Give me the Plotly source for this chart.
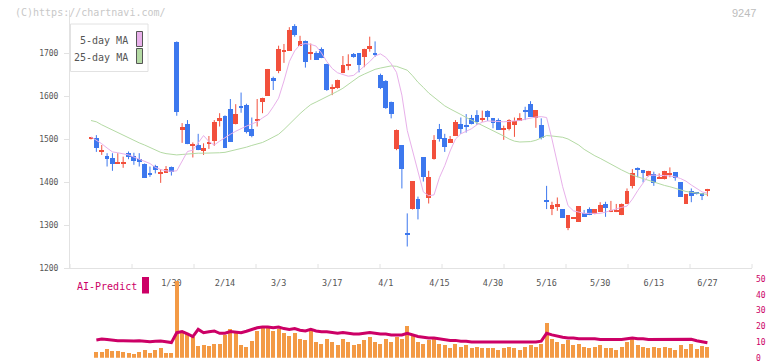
import plotly.graph_objects as go

W, H = 772, 361

# ---------------- data ----------------
label_idx = [15, 25, 35, 45, 55, 65, 75, 85, 95, 105, 115]
label_text = ["1/30", "2/14", "3/3", "3/17", "4/1", "4/15", "4/30", "5/16", "5/30", "6/13", "6/27"]

open_ = [1500, 1502, 1471, 1460, 1456, 1443, 1441, 1468, 1460, 1453,
         1443, 1419, 1437, 1420, 1422, 1436, 1725, 1522, 1535, 1484,
         1486, 1473, 1489, 1495, 1543, 1553, 1570, 1534, 1577, 1580,
         1523, 1543, 1585, 1601, 1643, 1657, 1703, 1705, 1762, 1716,
         1728, 1698, 1699, 1709, 1674, 1616, 1618, 1654, 1672, 1698,
         1699, 1690, 1709, 1699, 1648, 1634, 1587, 1476, 1486, 1280,
         1337, 1360, 1457, 1363, 1453, 1523, 1502, 1491, 1507, 1535,
         1529, 1548, 1556, 1544, 1564, 1548, 1544, 1522, 1523, 1533,
         1543, 1566, 1581, 1549, 1533, 1355, 1338, 1343, 1337, 1292,
         1314, 1308, 1327, 1337, 1326, 1331, 1349, 1331, 1331, 1323,
         1350, 1391, 1429, 1428, 1414, 1418, 1409, 1406, 1417, 1423,
         1399, 1350, 1379, 1375, 1374, 1378]
high = [1503, 1509, 1486, 1467, 1467, 1467, 1459, 1471, 1468, 1467,
        1443, 1436, 1440, 1430, 1437, 1436, 1727, 1537, 1544, 1492,
        1512, 1490, 1507, 1544, 1560, 1555, 1593, 1581, 1608, 1582,
        1550, 1593, 1596, 1663, 1645, 1717, 1721, 1760, 1767, 1740,
        1729, 1722, 1704, 1713, 1675, 1627, 1638, 1693, 1697, 1700,
        1700, 1710, 1738, 1727, 1652, 1637, 1587, 1522, 1486, 1327,
        1402, 1366, 1458, 1426, 1509, 1535, 1512, 1507, 1544, 1550,
        1558, 1556, 1567, 1566, 1567, 1548, 1548, 1531, 1546, 1550,
        1560, 1575, 1588, 1567, 1548, 1391, 1354, 1364, 1337, 1323,
        1316, 1344, 1335, 1341, 1337, 1353, 1354, 1356, 1349, 1350,
        1385, 1430, 1434, 1428, 1426, 1424, 1420, 1426, 1434, 1423,
        1399, 1371, 1385, 1376, 1374, 1384]
low = [1499, 1470, 1463, 1436, 1426, 1442, 1433, 1453, 1440, 1436,
       1410, 1412, 1420, 1398, 1421, 1415, 1554, 1491, 1488, 1457,
       1474, 1463, 1477, 1484, 1529, 1480, 1494, 1534, 1561, 1513,
       1504, 1529, 1560, 1600, 1614, 1653, 1677, 1705, 1738, 1716,
       1666, 1684, 1684, 1688, 1612, 1602, 1617, 1653, 1660, 1689,
       1655, 1667, 1703, 1691, 1616, 1570, 1548, 1474, 1385, 1250,
       1336, 1313, 1401, 1350, 1452, 1494, 1470, 1491, 1507, 1512,
       1515, 1534, 1533, 1540, 1542, 1525, 1521, 1498, 1520, 1505,
       1542, 1544, 1552, 1526, 1499, 1337, 1323, 1333, 1317, 1288,
       1314, 1308, 1319, 1323, 1325, 1330, 1319, 1330, 1330, 1323,
       1350, 1385, 1411, 1399, 1413, 1391, 1408, 1406, 1411, 1403,
       1366, 1350, 1353, 1371, 1358, 1367]
close = [1502, 1478, 1473, 1454, 1443, 1447, 1446, 1457, 1450, 1446,
         1410, 1418, 1428, 1424, 1430, 1424, 1563, 1527, 1488, 1486,
         1474, 1480, 1492, 1540, 1550, 1480, 1494, 1558, 1574, 1517,
         1506, 1546, 1595, 1663, 1634, 1709, 1706, 1753, 1742, 1728,
         1680, 1700, 1684, 1689, 1614, 1622, 1637, 1672, 1675, 1690,
         1671, 1709, 1716, 1696, 1618, 1571, 1557, 1521, 1430, 1279,
         1402, 1337, 1412, 1412, 1498, 1500, 1482, 1500, 1539, 1523,
         1528, 1534, 1540, 1550, 1552, 1538, 1521, 1523, 1544, 1543,
         1550, 1565, 1552, 1567, 1503, 1354, 1346, 1349, 1317, 1323,
         1315, 1344, 1319, 1323, 1337, 1346, 1340, 1335, 1336, 1350,
         1379, 1420, 1428, 1420, 1425, 1398, 1411, 1426, 1418, 1409,
         1366, 1371, 1368, 1374, 1368, 1384]

ma5 = [1505, 1498, 1489, 1479, 1470, 1468, 1465, 1463, 1458, 1453,
       1449, 1443, 1434, 1429, 1426, 1425, 1426, 1447, 1471, 1474,
       1492, 1508, 1494, 1486, 1495, 1504, 1511, 1518, 1525, 1530,
       1535, 1540, 1549, 1557, 1575, 1595, 1635, 1680, 1705, 1719,
       1722, 1720, 1716, 1700, 1680, 1664, 1654, 1650, 1646, 1648,
       1658, 1668, 1680, 1693, 1698, 1690, 1675, 1655, 1602, 1520,
       1470, 1420, 1377, 1368, 1370, 1410, 1438, 1472, 1500, 1512,
       1518, 1524, 1533, 1539, 1542, 1541, 1540, 1540, 1541, 1542,
       1543, 1546, 1549, 1551, 1552, 1550, 1500, 1445, 1389, 1345,
       1333, 1330, 1327, 1327, 1327, 1327, 1330, 1334, 1338, 1341,
       1344, 1360, 1380, 1398, 1415, 1416, 1416, 1415, 1414, 1412,
       1408, 1402, 1393, 1385, 1377, 1374]
ma25 = [1543, 1540, 1533, 1527, 1521, 1514, 1508, 1502, 1497, 1491,
        1486, 1480, 1474, 1469, 1466, 1464, 1463, 1464, 1465, 1467,
        1467, 1467, 1467, 1467, 1468, 1469, 1472, 1474, 1477, 1481,
        1485, 1488, 1492, 1498, 1504, 1511, 1522, 1535, 1548, 1559,
        1570, 1580, 1586, 1592, 1598, 1605, 1611, 1618, 1627, 1636,
        1645, 1651, 1657, 1662, 1665, 1668, 1670, 1669, 1665, 1660,
        1647, 1632, 1620, 1607, 1597, 1587, 1577, 1570, 1564, 1557,
        1550, 1544, 1538, 1532, 1525, 1519, 1513, 1507, 1500, 1495,
        1493, 1493, 1494, 1497, 1503, 1508, 1507, 1505, 1504, 1500,
        1493, 1486, 1476, 1468, 1461, 1455, 1448, 1440, 1434, 1428,
        1422, 1416, 1412, 1408, 1403, 1400, 1396, 1392, 1389, 1385,
        1382, 1378, 1376, 1374, 1372, 1371]

volume = [None, 3.8, 3.8, 5.5, 4.5, 4.2, 3.8, 2.8, 2.1, 3.8,
          4.9, 3.2, 4.9, 6.2, 3.2, 3.2, 48.9, 17, 15.9, 13.4,
          7.5, 8.1, 7.5, 8.7, 8.7, 14.5, 18.3, 15.5, 8.1, 7.0,
          10.6, 17, 20, 19, 17, 18, 16, 14, 16, 12,
          11, 18, 10, 9, 12, 10, 8, 12, 10, 8,
          9, 11, 13, 10, 9, 12, 10, 13, 12, 20,
          14, 10, 9, 11, 12, 9, 8, 6, 9, 7,
          8, 6, 7, 6, 6, 6, 5, 6, 7, 6,
          5, 7, 8, 7, 9, 22, 12, 10, 9, 11,
          8, 9, 7, 6, 7, 8, 6, 6, 5, 7,
          10, 12, 8, 7, 6, 7, 6, 7, 6, 5,
          8, 5.5, 8.7, 5.3, 7.5, 6.8]
ai_predict = [None, 11.3, 11.9, 11.5, 11.0, 10.8, 10.8, 10.6, 10.6, 10.8,
              10.4, 10.2, 10.4, 10.6, 10.2, 9.6, 15.9, 16.6, 15.1, 13.4,
              18.0, 15.9, 16.5, 17.0, 15.5, 15.5, 16.6, 16.3, 15.9, 16.8,
              18.0, 19.0, 19.5, 19.5, 19.0, 19.5, 18.5, 18.0, 18.5, 17.5,
              17.0, 18.0, 17.0, 16.5, 16.5, 16.0, 15.5, 16.0, 15.5, 15.0,
              15.0, 15.5, 16.0, 15.5, 15.0, 15.0, 14.5, 14.5, 14.5, 15.5,
              14.5, 13.5, 13.0, 12.5, 12.5, 12.0, 11.5, 11.0, 11.0, 10.5,
              10.5, 10.0, 10.0, 10.0, 9.8, 9.8, 9.6, 9.6, 9.6, 9.6,
              9.6, 9.8, 10.0, 10.0, 10.5, 15.5, 14.5, 13.5, 13.0, 12.5,
              12.5, 12.0, 12.0, 12.0, 12.0, 11.5, 11.5, 11.5, 11.5, 11.5,
              12.0, 12.5, 12.0, 12.0, 11.5, 11.5, 11.5, 11.5, 11.5, 11.5,
              11.7, 11.7, 11.7, 10.8, 10.2, 9.5]

# ---------------- styling ----------------
RED = "#f2503c"
BLUE = "#3d78ee"
ORANGE = "#f39a45"
CRIMSON = "#cc0066"
PINK = "#e8b0ea"
GREEN = "#b4daa4"
AXIS = "#e2e2e2"
MONO = "DejaVu Sans Mono"


def fx(px):
    return px / W


def fy(px):
    return 1 - px / H


n = len(close)
idx = list(range(n))
up = [c > o for o, c in zip(open_, close)]

fig = go.Figure()

# wicks
for flag, col in ((True, RED), (False, BLUE)):
    xs, ys = [], []
    for i in idx:
        if up[i] == flag:
            xs += [i, i, None]
            ys += [low[i], high[i], None]
    fig.add_trace(go.Scatter(x=xs, y=ys, mode="lines", line=dict(color=col, width=1),
                             hoverinfo="skip", showlegend=False, xaxis="x", yaxis="y"))

# bodies
for flag, col in ((True, RED), (False, BLUE)):
    xs = [i for i in idx if up[i] == flag]
    base = [min(open_[i], close[i]) for i in xs]
    hgt = [max(abs(close[i] - open_[i]), 2.4) for i in xs]
    fig.add_trace(go.Bar(x=xs, y=hgt, base=base, width=0.9, marker=dict(color=col, line=dict(width=0)),
                         showlegend=False, xaxis="x", yaxis="y"))

fig.add_trace(go.Scatter(x=idx, y=ma25, mode="lines", line=dict(color=GREEN, width=1),
                         showlegend=False, xaxis="x", yaxis="y"))
fig.add_trace(go.Scatter(x=idx, y=ma5, mode="lines", line=dict(color=PINK, width=1),
                         showlegend=False, xaxis="x", yaxis="y"))

# volume + AI predict
fig.add_trace(go.Bar(x=idx, y=volume, width=0.75, marker=dict(color=ORANGE, line=dict(width=0)),
                     showlegend=False, xaxis="x2", yaxis="y2"))
fig.add_trace(go.Scatter(x=idx, y=ai_predict, mode="lines", line=dict(color=CRIMSON, width=3),
                         showlegend=False, xaxis="x2", yaxis="y2"))

xrange = [(70 - 91) / 5.36, (752 - 91) / 5.36]
xdom = [fx(70), fx(752)]

shapes = []
# x-axis tick marks (evenly spaced, pointing up)
for k in range(12):
    shapes.append(dict(type="line", xref="x domain", yref="y domain", x0=k / 11, x1=k / 11,
                       y0=0, y1=4 / 258, line=dict(color=AXIS, width=1)))
# legend box
shapes.append(dict(type="rect", xref="paper", yref="paper", x0=fx(70.5), x1=fx(148), y0=fy(24), y1=fy(71.5),
                   line=dict(color=AXIS, width=1), fillcolor="white", layer="above"))
shapes.append(dict(type="rect", xref="paper", yref="paper", x0=fx(136.5), x1=fx(142.5), y0=fy(31.5), y1=fy(46.5),
                   line=dict(color="#555555", width=1), fillcolor=PINK, layer="above"))
shapes.append(dict(type="rect", xref="paper", yref="paper", x0=fx(136.5), x1=fx(142.5), y0=fy(48.5), y1=fy(63.5),
                   line=dict(color="#555555", width=1), fillcolor=GREEN, layer="above"))
# AI-Predict marker
shapes.append(dict(type="rect", xref="paper", yref="paper", x0=fx(142), x1=fx(149), y0=fy(277), y1=fy(293.5),
                   line=dict(width=0), fillcolor=CRIMSON, layer="above"))

annotations = [
    dict(text="(C)https://chartnavi.com/", xref="paper", yref="paper", x=fx(13), y=fy(12.5),
         xanchor="left", yanchor="middle", showarrow=False, font=dict(family=MONO, size=10, color="#c8c8c8")),
    dict(text="9247", xref="paper", yref="paper", x=fx(758), y=fy(12.5),
         xanchor="right", yanchor="middle", showarrow=False, font=dict(family="Liberation Sans", size=11, color="#bdbdbd")),
    dict(text="5-day MA", xref="paper", yref="paper", x=fx(130), y=fy(40.5),
         xanchor="right", yanchor="middle", showarrow=False, font=dict(family=MONO, size=10, color="#555555")),
    dict(text="25-day MA", xref="paper", yref="paper", x=fx(130), y=fy(57),
         xanchor="right", yanchor="middle", showarrow=False, font=dict(family=MONO, size=10, color="#555555")),
    dict(text="AI-Predict", xref="paper", yref="paper", x=fx(75), y=fy(286),
         xanchor="left", yanchor="middle", showarrow=False, font=dict(family=MONO, size=10, color=CRIMSON)),
]

fig.update_layout(
    width=W, height=H,
    margin=dict(l=0, r=0, t=0, b=0, autoexpand=False),
    paper_bgcolor="white", plot_bgcolor="rgba(0,0,0,0)",
    barmode="overlay", bargap=0,
    showlegend=False,
    xaxis=dict(domain=xdom, range=xrange, anchor="y", showgrid=False, zeroline=False, automargin=False,
               showline=True, linecolor=AXIS, linewidth=1,
               tickmode="array", tickvals=label_idx, ticktext=label_text, ticks="",
               ticklabelstandoff=7, tickfont=dict(family=MONO, size=8.5, color="#555555")),
    yaxis=dict(domain=[fy(268), fy(10)], range=[1200, 1200 + 258 / 0.43], anchor="x", automargin=False,
               showgrid=False, zeroline=False, showline=True, linecolor=AXIS, linewidth=1,
               tickmode="array", tickvals=[1200, 1300, 1400, 1500, 1600, 1700],
               ticks="outside", ticklen=5, tickcolor=AXIS, ticklabelstandoff=4,
               tickfont=dict(family=MONO, size=8, color="#555555")),
    xaxis2=dict(domain=xdom, range=xrange, anchor="y2", matches="x", showgrid=False, zeroline=False,
                automargin=False, showline=False, showticklabels=False, ticks=""),
    yaxis2=dict(domain=[fy(357.7), fy(279)], range=[0, 50], anchor="x2", side="right", automargin=False,
                showgrid=False, zeroline=False, showline=False, ticks="",
                tickmode="array", tickvals=[0, 10, 20, 30, 40, 50], ticklabelstandoff=3,
                ticklabeloverflow="allow",
                tickfont=dict(family=MONO, size=8, color=CRIMSON)),
    shapes=shapes,
    annotations=annotations,
)

fig.write_html("out.html",
               config={"displayModeBar": False},
               post_script="document.body.style.margin='0';document.body.style.padding='0';"
                           "document.body.style.overflow='hidden';")
